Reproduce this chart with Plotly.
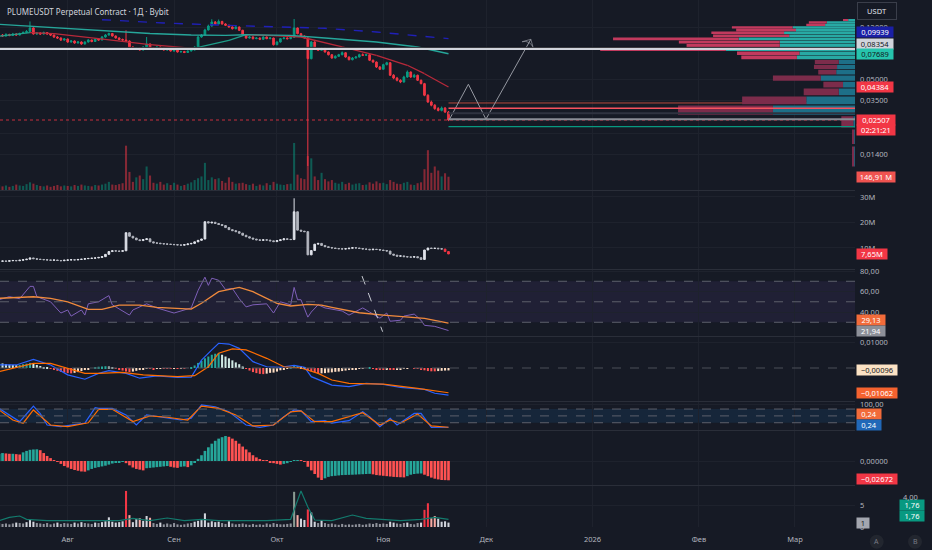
import math
import pandas as pd
import plotly.graph_objects as go

TITLE = "PLUMEUSDT Perpetual Contract · 1Д · Bybit"
START = "2025-07-12"

# ---------------- daily candles ----------------
first_open = 0.1050
closes = [
    0.1057, 0.1039, 0.1066, 0.1048, 0.1075, 0.1057, 0.1084, 0.1103, 0.1122, 0.1191,
    0.1075, 0.1094, 0.1075, 0.1103, 0.1075, 0.1057, 0.1022, 0.1005, 0.0971, 0.0988,
    0.0939, 0.0955, 0.0923, 0.0939, 0.0908, 0.0939, 0.0971, 0.0947, 0.0988, 0.0971,
    0.1022, 0.1057, 0.1084, 0.1039, 0.1005, 0.0979, 0.0971, 0.0955, 0.0863, 0.0834,
    0.0848, 0.0820, 0.0863, 0.0908, 0.0848, 0.0834, 0.0863, 0.0848, 0.0820, 0.0834,
    0.0806, 0.0820, 0.0793, 0.0799, 0.0786, 0.0806, 0.0820, 0.0863, 0.1022, 0.1057,
    0.1151, 0.1231, 0.1317, 0.1274, 0.1329, 0.1274, 0.1246, 0.1211, 0.1176, 0.1211,
    0.1145, 0.1062, 0.1005, 0.1022, 0.0993, 0.1005, 0.0983, 0.1022, 0.0993, 0.1005,
    0.0897, 0.0939, 0.0993, 0.1005, 0.0993, 0.1017, 0.1191, 0.1081, 0.1039, 0.1005,
    0.0708, 0.0939, 0.0838, 0.0816, 0.0848, 0.0793, 0.0757, 0.0716, 0.0737, 0.0757,
    0.0783, 0.0728, 0.0696, 0.0716, 0.0728, 0.0757, 0.0750, 0.0757, 0.0689, 0.0669,
    0.0615, 0.0592, 0.0640, 0.0661, 0.0535, 0.0510, 0.0491, 0.0477, 0.0519, 0.0565,
    0.0519, 0.0535, 0.0491, 0.0464, 0.0381, 0.0340, 0.0322, 0.0304, 0.0295, 0.0307,
    0.0287, 0.02507,
]
highs = [
    0.1085, 0.1075, 0.1090, 0.1080, 0.1095, 0.1090, 0.1100, 0.1125, 0.1150, 0.1330,
    0.1205, 0.1110, 0.1105, 0.1120, 0.1110, 0.1090, 0.1065, 0.1040, 0.1015, 0.1005,
    0.0995, 0.0970, 0.0965, 0.0955, 0.0950, 0.0950, 0.0985, 0.0980, 0.1000, 0.1000,
    0.1040, 0.1075, 0.1100, 0.1095, 0.1050, 0.1015, 0.0995, 0.1145, 0.0965, 0.0875,
    0.0860, 0.0855, 0.0875, 0.1022, 0.0915, 0.0860, 0.0875, 0.0870, 0.0855, 0.0845,
    0.0840, 0.0830, 0.0828, 0.0810, 0.0808, 0.0815, 0.0830, 0.0875, 0.1040, 0.1075,
    0.1175, 0.1260, 0.1380, 0.1340, 0.1375, 0.1345, 0.1290, 0.1260, 0.1225, 0.1230,
    0.1220, 0.1155, 0.1075, 0.1040, 0.1035, 0.1020, 0.1015, 0.1035, 0.1030, 0.1020,
    0.1010, 0.0950, 0.1005, 0.1020, 0.1015, 0.1030, 0.1386, 0.1200, 0.1095, 0.1050,
    0.1015, 0.0955, 0.0950, 0.0850, 0.0860, 0.0855, 0.0800, 0.0765, 0.0750, 0.0768,
    0.0800, 0.0790, 0.0735, 0.0728, 0.0740, 0.0770, 0.0775, 0.0770, 0.0762, 0.0698,
    0.0675, 0.0625, 0.0650, 0.0672, 0.0668, 0.0545, 0.0520, 0.0500, 0.0530, 0.0580,
    0.0570, 0.0548, 0.0540, 0.0498, 0.0470, 0.0388, 0.0348, 0.0328, 0.0312, 0.0315,
    0.0312, 0.0292,
]
lows = [
    0.1030, 0.1025, 0.1030, 0.1035, 0.1040, 0.1045, 0.1050, 0.1075, 0.1090, 0.1110,
    0.1065, 0.1060, 0.1060, 0.1065, 0.1060, 0.1040, 0.1005, 0.0990, 0.0955, 0.0960,
    0.0925, 0.0930, 0.0910, 0.0915, 0.0895, 0.0900, 0.0930, 0.0935, 0.0940, 0.0960,
    0.0965, 0.1010, 0.1045, 0.1030, 0.0995, 0.0970, 0.0955, 0.0945, 0.0850, 0.0820,
    0.0825, 0.0810, 0.0815, 0.0855, 0.0840, 0.0825, 0.0828, 0.0838, 0.0812, 0.0812,
    0.0798, 0.0798, 0.0785, 0.0785, 0.0778, 0.0780, 0.0800, 0.0815, 0.0858, 0.1010,
    0.1050, 0.1140, 0.1220, 0.1255, 0.1265, 0.1260, 0.1230, 0.1195, 0.1160, 0.1165,
    0.1130, 0.1050, 0.0990, 0.0995, 0.0980, 0.0985, 0.0970, 0.0975, 0.0985, 0.0985,
    0.0885, 0.0890, 0.0930, 0.0985, 0.0980, 0.0985, 0.1010, 0.1070, 0.1025, 0.0995,
    0.0115, 0.0700, 0.0825, 0.0805, 0.0810, 0.0785, 0.0748, 0.0708, 0.0710, 0.0728,
    0.0750, 0.0720, 0.0688, 0.0688, 0.0710, 0.0722, 0.0740, 0.0742, 0.0680, 0.0660,
    0.0605, 0.0585, 0.0588, 0.0632, 0.0528, 0.0500, 0.0482, 0.0468, 0.0472, 0.0512,
    0.0510, 0.0512, 0.0485, 0.0458, 0.0375, 0.0335, 0.0316, 0.0298, 0.0290, 0.0290,
    0.0282, 0.0246,
]
volume_m = [
    55, 40, 50, 35, 45, 60, 50, 45, 65, 85,
    70, 55, 45, 40, 50, 35, 45, 55, 40, 50,
    45, 40, 55, 45, 60, 50, 45, 40, 55, 50,
    60, 70, 90, 60, 55, 65, 75, 490, 200, 90,
    140, 160, 120, 260, 160, 80, 70, 90, 60, 75,
    55, 80, 60, 45, 55, 70, 85, 110, 130, 150,
    300, 110, 140, 120, 130, 100, 80, 140, 90, 70,
    75, 80, 65, 55, 70, 45, 60, 50, 75, 55,
    90, 70, 60, 55, 65, 70, 520, 170, 130, 120,
    375, 350, 150, 110, 190, 120, 95, 110, 80, 70,
    90, 65, 80, 60, 70, 75, 55, 60, 85, 70,
    95, 75, 80, 65, 110, 90, 70, 65, 80, 90,
    60, 55, 75, 85, 230, 440, 190, 260, 215, 150,
    185, 146.91,
]

# moving averages (day index, value)
ma_fast_days = [0, 9, 16, 29, 44, 55, 57, 67, 72, 80, 88, 100, 110, 119, 124, 131]
ma_fast = [0.1034, 0.1099, 0.1081, 0.0993, 0.0897, 0.0848, 0.0846, 0.0966, 0.1062,
           0.1045, 0.1022, 0.0863, 0.0750, 0.0633, 0.0549, 0.04384]
ma_slow_days = [0, 10, 29, 44, 56, 66, 72, 85, 95, 110, 122, 131]
ma_slow = [0.1267, 0.1225, 0.1145, 0.1084, 0.1057, 0.1050, 0.1062, 0.1050, 0.1005,
           0.0939, 0.0863, 0.07689]
ma_long_days = [30, 48, 66, 95, 110, 131]
ma_long = [0.1370, 0.1295, 0.1246, 0.1184, 0.1112, 0.09939]

# visible range volume profile
profile_prices = [0.1363, 0.1310, 0.1256, 0.1203, 0.1150, 0.1097, 0.1043, 0.0990,
                  0.0937, 0.0883, 0.0830, 0.0777, 0.0723, 0.0670, 0.0617, 0.0564,
                  0.0510, 0.0457, 0.0404, 0.0350, 0.0297, 0.0244, 0.0190, 0.0137]
profile_up = [0.8, 3.3, 3.5, 7.3, 6.9, 8.3, 7.7, 13.6, 8.8, 8.8, 15.1, 6.5, 6.8,
              1.9, 2.1, 2.2, 4.0, 1.4, 1.9, 5.7, 9.6, 0.2, 0.1, 0.1]
profile_down = [0.6, 2.1, 2.2, 7.1, 7.0, 8.5, 8.9, 14.7, 11.8, 10.9, 14.7, 7.3, 6.5,
                2.8, 2.7, 2.1, 5.6, 2.3, 4.1, 7.5, 11.1, 1.4, 0.25, 0.25]
value_area_low = 0.0700

# drawings
level_main = 0.08354
level_shadow = 0.0857
levels_right = [0.03344, 0.03057, 0.02808, 0.02537, 0.02238]
last_price = 0.02507
zigzag_dates = ["2025-11-20 07:00", "2025-11-25 19:00", "2025-11-30 22:00", "2025-12-14"]
zigzag_prices = [0.0254, 0.0459, 0.0254, 0.0983]

# open interest (M)
oi_m = [
    4.8, 4.9, 4.8, 5.0, 5.1, 5.0, 5.2, 5.4, 5.6, 6.1,
    5.8, 5.6, 5.5, 5.4, 5.3, 5.2, 5.3, 5.1, 5.0, 5.2,
    5.3, 5.4, 5.3, 5.5, 5.6, 5.8, 5.9, 6.0, 6.1, 6.3,
    6.6, 7.5, 8.6, 8.9, 8.8, 8.7, 8.9, 16.0, 14.6, 13.9,
    13.2, 12.9, 13.3, 13.6, 12.4, 12.0, 11.9, 11.7, 11.6, 11.5,
    11.4, 11.3, 11.2, 11.1, 11.3, 11.6, 11.8, 12.4, 13.0, 13.5,
    20.3, 19.8, 20.1, 19.6, 19.2, 18.8, 18.0, 17.2, 16.8, 16.4,
    15.8, 15.0, 14.4, 13.9, 13.5, 13.2, 13.0, 13.2, 13.1, 12.8,
    12.5, 12.9, 13.2, 13.6, 13.4, 13.3, 24.2, 17.0, 16.6, 16.4,
    7.3, 9.0, 11.5, 11.8, 11.0, 10.5, 10.2, 10.0, 9.8, 9.7,
    9.6, 9.7, 9.9, 10.1, 10.0, 9.8, 9.6, 9.5, 9.3, 9.5,
    9.4, 9.2, 9.0, 8.8, 7.6, 7.2, 6.8, 6.9, 6.6, 6.5,
    6.4, 6.6, 6.2, 5.5, 9.2, 10.0, 9.8, 9.9, 9.7, 9.6,
    8.6, 7.65,
]
oi_wick_high = {86: 29.5}

# RSI
rsi_days = [0, 3, 6, 9, 10, 11, 15, 18, 20, 21, 24, 25, 26, 29, 32, 33, 38, 39, 43, 46,
            51, 56, 58, 60, 61, 62, 64, 66, 68, 70, 72, 74, 78, 80, 82, 85, 86, 87, 88,
            90, 91, 93, 95, 100, 102, 106, 108, 111, 113, 114, 117, 118, 121, 123, 124,
            127, 131]
rsi_vals = [52, 55, 53, 65, 65, 55, 50, 39, 42, 36, 42, 37, 48, 50, 56, 47, 37, 42, 48, 44,
            39, 44, 61, 74, 66, 73, 71, 62, 63, 53, 45, 47, 48, 39, 50, 47, 64, 52, 52,
            35, 40, 47, 44, 41, 37, 44, 40, 34, 39, 31, 32, 36, 38, 32, 27,
            26, 21.94]
rsi_ma_days = [0, 10, 15, 20, 26, 30, 35, 41, 46, 56, 59, 64, 70, 74, 81, 85, 90, 94, 97,
               105, 112, 124, 131]
rsi_ma_vals = [53.4, 54.9, 53.4, 50, 42.6, 42.6, 46.8, 46.8, 44.6, 42.9, 48.5, 59.8, 64.1,
               59.8, 48.5, 45.9, 47.5, 46.8, 44.6, 39.3, 37, 33.9, 29.13]
rsi_trend_dates = ["2025-10-25 19:00", "2025-10-31 19:00"]
rsi_trend_vals = [75.1, 20.8]

# MACD
macd_days = [0, 5, 10, 15, 20, 25, 29, 32, 37, 41, 46, 52, 56, 59, 62, 64, 67, 70, 74, 78,
             82, 86, 89, 91, 97, 102, 107, 112, 117, 124, 127, 131]
macd_vals = [0.0012, 0.0012, 0.0034, 0.0012, -0.0027, -0.0044, -0.0021, -0.0010, -0.0021,
             -0.0040, -0.0031, -0.0037, -0.0036, 0.0031, 0.0071, 0.0097, 0.0094, 0.0077,
             0.0025, 0.0005, 0.0003, 0.0010, 0.0003, -0.0034, -0.0067, -0.0073, -0.0060,
             -0.0064, -0.0076, -0.0084, -0.0099, -0.01062]
signal_days = [0, 10, 15, 20, 25, 29, 36, 42, 52, 57, 61, 64, 68, 72, 78, 83, 88, 93, 97,
               102, 112, 122, 131]
signal_vals = [-0.0014, 0.0018, 0.0018, 0.0, -0.0021, -0.0021, -0.0017, -0.0027, -0.0034,
               -0.0030, 0.0005, 0.0058, 0.0075, 0.0071, 0.0038, 0.0005, 0.0, -0.0021,
               -0.0047, -0.0060, -0.0063, -0.0080, -0.0097]
macd_hist_e4 = [
    20, 18, 15, 13, 12, 11, 12, 15, 17, 20,
    17, 12, 8, 4, 1, -3, -7, -11, -15, -18,
    -20, -21, -19, -16, -12, -8, -4, 0, 3, 5,
    6, 7, 6, 3, -2, -6, -10, -14, -16, -14,
    -11, -8, -6, -3, -3, -4, -3, -2, -2, -3,
    -3, -2, -2, -1, -1, 0, 3, 10, 20, 28,
    38, 45, 52, 56, 58, 52, 45, 38, 30, 22,
    15, 6, -3, -10, -16, -20, -23, -24, -22, -19,
    -18, -14, -9, -5, -2, 2, 8, 8, 6, 2,
    -8, -13, -17, -22, -21, -20, -18, -17, -15, -14,
    -12, -10, -8, -6, -5, -3, -1, 0, 1, -2,
    -4, -5, -6, -4, -6, -7, -6, -5, -3, -1,
    0, -1, -3, -5, -9, -12, -13, -13, -12, -11,
    -10, -9.6,
]

# Stochastic RSI
stoch_k_days = [0, 3, 6, 10, 12, 14, 18, 25, 28, 29, 33, 37, 40, 43, 47, 53, 56, 59, 63,
                67, 72, 76, 80, 83, 86, 88, 91, 95, 97, 102, 106, 108, 111, 114, 116, 121,
                123, 126, 131]
stoch_k = [83, 54, 25, 93, 60, 10, 3, 18, 86, 83, 83, 54, 10, 54, 44, 32, 40, 98, 90,
           68, 10, 0, 10, 46, 76, 72, 25, 29, 18, 29, 68, 46, 3, 39, 10, 61,
           61, 0, 0.24]
stoch_d_days = [0, 4, 7, 10, 15, 20, 26, 29, 33, 39, 44, 49, 55, 59, 64, 69, 74, 80, 85,
                88, 92, 97, 106, 111, 114, 117, 122, 126, 131]
stoch_d = [76, 32, 18, 76, 10, 3, 20, 79, 79, 25, 50, 44, 32, 93, 83, 54, 6, 10, 68,
           72, 25, 25, 64, 10, 32, 18, 58, 6, 0.24]

# momentum histogram (x1e-3)
momentum_e3 = [
    10, 11, 10.5, 10, 10, 9.5, 9, 12, 14, 15.5,
    16, 16.2, 15, 11, 7, 4, 1, -1, -4, -7,
    -9, -11, -12.5, -13.5, -14.5, -14.8, -13, -11, -9.5, -8.5,
    -7.5, -6.5, -5, -3.5, -2.5, -2, -1, -3, -6, -9,
    -11, -12, -13, -10, -9.5, -9, -8.5, -8, -7.5, -7,
    -8, -9, -9.5, -8, -7.5, -8.5, -6, -2, 3, 8,
    14, 19, 24, 28, 31, 33, 34.6, 33.5, 31, 28,
    24, 20, 16, 12, 8, 5, 2, 0.5, 0.3, -1.5,
    -3, -4, -5, -4, -3, -1, 0.5, 1, 0.8, -0.5,
    -8, -13, -18, -23, -26.3, -24, -22, -21, -20.5, -20,
    -19.5, -19.3, -19.2, -19, -18.8, -18.5, -18.3, -18, -17.8, -18.5,
    -19.5, -20, -20.5, -21, -21.5, -22, -22.3, -22.5, -22.7, -21,
    -19, -18, -17.5, -17.3, -19, -21, -23, -24.5, -25.5, -26.3,
    -26.5, -26.72,
]

# relative volume
rel_vol = [
    0.9, 0.7, 0.8, 0.6, 0.8, 1.0, 0.9, 0.8, 1.1, 1.6,
    1.2, 0.9, 0.8, 0.7, 0.9, 0.6, 0.8, 1.0, 0.7, 0.9,
    0.8, 0.7, 1.0, 0.8, 1.1, 0.9, 0.8, 0.7, 1.0, 0.9,
    1.1, 1.3, 2.2, 1.2, 1.0, 1.1, 1.3, 8.2, 2.7, 1.1,
    1.8, 2.0, 1.4, 2.5, 2.1, 0.9, 0.7, 1.0, 0.6, 0.8,
    0.6, 0.9, 0.6, 0.5, 0.6, 0.8, 0.9, 1.2, 1.4, 1.6,
    3.1, 1.0, 1.3, 1.1, 1.2, 0.9, 0.7, 1.3, 0.8, 0.6,
    0.7, 0.8, 0.6, 0.5, 0.7, 0.5, 0.6, 0.5, 0.8, 0.6,
    0.9, 0.7, 0.6, 0.6, 0.7, 0.8, 8.0, 2.7, 1.9, 1.6,
    4.0, 3.3, 1.2, 0.9, 1.5, 0.9, 0.7, 0.8, 0.6, 0.5,
    0.7, 0.5, 0.6, 0.5, 0.6, 0.7, 0.5, 0.6, 0.8, 0.7,
    0.9, 0.7, 0.8, 0.7, 1.2, 1.0, 0.8, 0.7, 0.9, 1.0,
    0.7, 0.6, 0.9, 1.0, 3.9, 5.4, 2.0, 2.5, 1.9, 1.2,
    1.3, 1.0,
]
relvol_ma_days = [0, 3, 6, 8, 14, 20, 29, 35, 39, 44, 49, 54, 59, 64, 78, 85, 88, 90, 92,
                  97, 103, 107, 117, 123, 127, 131]
relvol_ma = [1.62, 1.96, 2.09, 1.76, 1.63, 1.62, 1.62, 1.63, 1.86, 1.63, 1.89, 1.62, 1.76,
             1.63, 1.62, 1.76, 4.6, 3.0, 1.69, 1.62, 2.19, 1.86, 1.62, 1.76, 1.96, 1.76]

month_ticks = ["2025-08-01", "2025-09-01", "2025-10-01", "2025-11-01",
               "2025-12-01", "2026-01-01", "2026-02-01", "2026-03-01"]
month_labels = ["Авг", "Сен", "Окт", "Ноя", "Дек", "2026", "Фев", "Мар"]

# ---------------- styling ----------------
BG = "#161a25"
GRID = "#1e222d"
SEP = "#2a2e39"
TXT = "#b2b5be"
UP = "#089981"
DOWN = "#f23645"
FONT = "Noto Sans"
DAY_MS = 86400000

W, H = 932, 550
MR, MB = 77, 23
PH = H - MB
PW = W - MR
X0, X1 = "2025-07-12 06:17", "2026-03-18 12:00"
panes = [(0, 190), (191, 269), (270, 336), (337, 401), (402, 430), (431, 485), (486, 527)]


def dom(i):
    top, bot = panes[i]
    return [1 - bot / PH, 1 - top / PH]


def py(px):
    return 1 - px / PH


dates = pd.date_range(START, periods=len(closes), freq="D")
opens = [first_open] + closes[:-1]
rising = [c >= o for o, c in zip(opens, closes)]


def at(days):
    return [dates[i] for i in days]


fig = go.Figure()

# volume under candles (base subplot of price pane)
fig.add_trace(go.Bar(
    x=dates, y=volume_m, width=0.6 * DAY_MS, marker_line_width=0,
    marker_color=["rgba(8,153,129,0.5)" if r else "rgba(242,54,69,0.5)" for r in rising],
    xaxis="x", yaxis="y"))

# price candles
fig.add_trace(go.Candlestick(
    x=dates, open=opens, high=highs, low=lows, close=closes, xaxis="x", yaxis="y2",
    increasing=dict(line=dict(color=UP, width=1), fillcolor=UP),
    decreasing=dict(line=dict(color=DOWN, width=1), fillcolor=DOWN),
    whiskerwidth=0))

# current price dotted line and lower level under profile
fig.add_trace(go.Scatter(x=[X0, X1], y=[last_price, last_price], mode="lines",
                         line=dict(color="rgba(242,54,69,0.8)", width=1, dash="dot"),
                         xaxis="x", yaxis="y2"))
fig.add_trace(go.Scatter(x=[dates[-1], X1], y=[levels_right[0]] * 2, mode="lines",
                         line=dict(color="#b8483c", width=1), xaxis="x", yaxis="y2"))

# moving averages
fx = at(ma_fast_days)
for want_up, col in [(True, "#1f9e89"), (False, "#b8293a")]:
    xs, ys = [], []
    for i in range(len(ma_fast) - 1):
        if (ma_fast[i + 1] >= ma_fast[i]) == want_up:
            xs += [fx[i], fx[i + 1], None]
            ys += [ma_fast[i], ma_fast[i + 1], None]
    fig.add_trace(go.Scatter(x=xs, y=ys, mode="lines", line=dict(color=col, width=1.3),
                             xaxis="x", yaxis="y2"))
fig.add_trace(go.Scatter(x=at(ma_slow_days), y=ma_slow, mode="lines",
                         line=dict(color="#26a69a", width=1.4), xaxis="x", yaxis="y2"))
fig.add_trace(go.Scatter(x=at(ma_long_days), y=ma_long, mode="lines",
                         line=dict(color="#2020b8", width=1.4, dash="dash"), xaxis="x", yaxis="y2"))

# zigzag drawing with arrow head
fig.add_trace(go.Scatter(
    x=zigzag_dates, y=zigzag_prices, mode="lines+markers",
    line=dict(color="#9598a1", width=1),
    marker=dict(symbol=["circle", "circle", "circle", "arrow-wide-open"], size=[0, 0, 0, 9],
                angleref="previous", color="#9598a1", line=dict(color="#9598a1", width=1)),
    xaxis="x", yaxis="y2"))

# volume profile (right side)
HALF = 0.0023


def profile_poly(rows, left, right):
    xs, ys = [], []
    for i in rows:
        c = profile_prices[i]
        a, b = left[i], right[i]
        xs += [a, b, b, a, a, None]
        ys += [c - HALF, c - HALF, c + HALF, c + HALF, c - HALF, None]
    return xs, ys


zeros = [0] * len(profile_prices)
totals = [u + d for u, d in zip(profile_up, profile_down)]
va_rows = [i for i, p in enumerate(profile_prices) if p >= value_area_low]
out_rows = [i for i, p in enumerate(profile_prices) if p < value_area_low]
for rows, up_col, dn_col in [(va_rows, "#28a9a4", "#c23a5e"), (out_rows, "#1d6f88", "#7c2c4b")]:
    for left, right, col in [(zeros, profile_up, up_col), (profile_up, totals, dn_col)]:
        xs, ys = profile_poly(rows, left, right)
        fig.add_trace(go.Scatter(x=xs, y=ys, mode="lines", fill="toself", fillcolor=col,
                                 line=dict(width=0), xaxis="x2", yaxis="y2"))

# horizontal drawings above the profile
fig.add_trace(go.Scatter(x=[X0, X1], y=[level_shadow] * 2, mode="lines",
                         line=dict(color="#05060a", width=1), xaxis="x3", yaxis="y2"))
fig.add_trace(go.Scatter(x=[X0, X1], y=[level_main] * 2, mode="lines",
                         line=dict(color="#d1d4dc", width=2.2), xaxis="x3", yaxis="y2"))
for lv, col, wd in zip(levels_right[1:], ["#f7525f", "#2f3340", "#8a8d96", "#089981"],
                       [1.6, 2, 2, 1.2]):
    fig.add_trace(go.Scatter(x=[dates[-1], X1], y=[lv, lv], mode="lines",
                             line=dict(color=col, width=wd), xaxis="x3", yaxis="y2"))

# open interest candles
oi_open = [oi_m[0]] + oi_m[:-1]
oi_high = [oi_wick_high.get(i, max(o, c)) for i, (o, c) in enumerate(zip(oi_open, oi_m))]
oi_low = [min(o, c) for o, c in zip(oi_open, oi_m)]
split = len(oi_m) - 2
for sl, inc, dec in [(slice(0, split), "#e0e3eb", "#b2b5be"), (slice(split, None), DOWN, DOWN)]:
    fig.add_trace(go.Candlestick(
        x=dates[sl], open=oi_open[sl], high=oi_high[sl], low=oi_low[sl], close=oi_m[sl],
        xaxis="x", yaxis="y3", whiskerwidth=0,
        increasing=dict(line=dict(color=inc, width=1), fillcolor=inc),
        decreasing=dict(line=dict(color=dec, width=1), fillcolor=dec)))

# RSI
fig.add_trace(go.Scatter(x=at(rsi_days), y=rsi_vals, mode="lines",
                         line=dict(color="#7e5fb8", width=1), xaxis="x", yaxis="y4"))
fig.add_trace(go.Scatter(x=at(rsi_ma_days), y=rsi_ma_vals, mode="lines",
                         line=dict(color="#f08a3c", width=1.3), xaxis="x", yaxis="y4"))
fig.add_trace(go.Scatter(x=rsi_trend_dates, y=rsi_trend_vals, mode="lines",
                         line=dict(color="#c8cbd3", width=1, dash="dash"), xaxis="x", yaxis="y4"))

# MACD
hist = [v * 1e-4 for v in macd_hist_e4]
hcol = []
for i, v in enumerate(hist):
    prev = hist[i - 1] if i else v
    if v >= 0:
        hcol.append("#26a69a" if v >= prev else "#cfe9e4")
    else:
        hcol.append("#fddcc2" if v > prev else "#ff5252")
fig.add_trace(go.Bar(x=dates, y=hist, width=0.6 * DAY_MS, marker_color=hcol,
                     marker_line_width=0, xaxis="x", yaxis="y5"))
fig.add_trace(go.Scatter(x=at(macd_days), y=macd_vals, mode="lines",
                         line=dict(color="#2962ff", width=1.2), xaxis="x", yaxis="y5"))
fig.add_trace(go.Scatter(x=at(signal_days), y=signal_vals, mode="lines",
                         line=dict(color="#ff6d00", width=1.2), xaxis="x", yaxis="y5"))

# Stoch RSI
fig.add_trace(go.Scatter(x=at(stoch_k_days), y=stoch_k, mode="lines",
                         line=dict(color="#2962ff", width=1.2), xaxis="x", yaxis="y6"))
fig.add_trace(go.Scatter(x=at(stoch_d_days), y=stoch_d, mode="lines",
                         line=dict(color="#ff6d00", width=1.2), xaxis="x", yaxis="y6"))

# momentum histogram
mom = [v * 1e-3 for v in momentum_e3]
mcol = ["#26a69a" if (i == 0 or v >= mom[i - 1]) else "#ff5252" for i, v in enumerate(mom)]
fig.add_trace(go.Bar(x=dates, y=mom, width=0.78 * DAY_MS, marker_color=mcol,
                     marker_line_width=0, xaxis="x", yaxis="y7"))

# relative volume
rcol = []
for r, up in zip(rel_vol, rising):
    if not up and r >= 3.5:
        rcol.append("#f23645")
    elif not up and r >= 2:
        rcol.append("#f7a9a2")
    elif up and r >= 6:
        rcol.append("#8a9a92")
    elif r >= 1:
        rcol.append("#d1d4dc")
    else:
        rcol.append("#8f929b")
fig.add_trace(go.Bar(x=dates, y=rel_vol, width=0.6 * DAY_MS, marker_color=rcol,
                     marker_line_width=0, xaxis="x", yaxis="y8"))
fig.add_trace(go.Scatter(x=at(relvol_ma_days), y=relvol_ma, mode="lines",
                         line=dict(color="#137a6d", width=1.2), xaxis="x", yaxis="y9"))

# ---------------- axes ----------------
tick_font = dict(size=7.5, color=TXT, family=FONT)


def yax(rng, vals=None, text=None, **kw):
    d = dict(range=rng, side="right", showgrid=True, gridcolor=GRID, gridwidth=1,
             zeroline=False, showline=False, ticks="", tickfont=tick_font,
             ticklabelstandoff=4, fixedrange=True)
    if vals is not None:
        d.update(tickmode="array", tickvals=vals, ticktext=text)
    d.update(kw)
    return d


layout_axes = dict(
    xaxis=dict(type="date", range=[X0, X1], anchor="y8", domain=[0, 1],
               tickmode="array", tickvals=month_ticks, ticktext=month_labels,
               showgrid=True, gridcolor=GRID, zeroline=False, showline=False, ticks="",
               tickfont=tick_font, ticklabelstandoff=6, rangeslider=dict(visible=False)),
    xaxis2=dict(overlaying="x", range=[100, 0], visible=False, anchor="y"),
    xaxis3=dict(overlaying="x", type="date", range=[X0, X1], visible=False, anchor="y"),
    yaxis=dict(domain=dom(0), range=[0, 2100], visible=False, fixedrange=True),
    yaxis2=yax([-2.1156, -0.7185], [0.12, 0.05, 0.035, 0.02, 0.014],
               ["0,12000", "0,05000", "0,03500", "", "0,01400"],
               type="log", overlaying="y"),
    yaxis3=yax([1.76, 32.35], [10, 20, 30], ["10M", "20M", "30M"], domain=dom(1)),
    yaxis4=yax([16.6, 81.0], [40, 60, 80], ["40,00", "60,00", "80,00"], domain=dom(2)),
    yaxis5=yax([-0.01294, 0.01216], [0.01], ["0,01000"], domain=dom(3)),
    yaxis6=yax([-11.84, 110.96], [100], ["100,00"], domain=dom(4)),
    yaxis7=yax([-0.03324, 0.04155], [0], ["0,00000"], domain=dom(5)),
    yaxis8=yax([0, 9.32], [0, 5], ["0", "5"], domain=dom(6)),
    yaxis9=dict(overlaying="y8", range=[0.987, 5.103], visible=False),
)

# ---------------- shapes ----------------
shapes = []
for top, _ in panes[1:]:
    shapes.append(dict(type="line", xref="paper", yref="paper", x0=0, x1=1,
                       y0=py(top - 0.5), y1=py(top - 0.5), line=dict(color=SEP, width=1)))
# indicator bands
shapes.append(dict(type="rect", xref="paper", yref="y4", x0=0, x1=1, y0=30, y1=70,
                   fillcolor="rgba(126,87,194,0.10)", line=dict(width=0), layer="below"))
for lv in (70, 50, 30):
    shapes.append(dict(type="line", xref="paper", yref="y4", x0=0, x1=1, y0=lv, y1=lv,
                       line=dict(color="#5d606b", width=1, dash="dash")))
shapes.append(dict(type="rect", xref="paper", yref="y6", x0=0, x1=1, y0=20, y1=80,
                   fillcolor="rgba(33,150,243,0.10)", line=dict(width=0), layer="below"))
for lv in (80, 50, 20):
    shapes.append(dict(type="line", xref="paper", yref="y6", x0=0, x1=1, y0=lv, y1=lv,
                       line=dict(color="#5d606b", width=1, dash="dash")))
shapes.append(dict(type="line", xref="paper", yref="y5", x0=0, x1=1, y0=0, y1=0,
                   line=dict(color="#4a4e59", width=1, dash="dash")))
# scale buttons
for cx in (876.7, 915.0):
    shapes.append(dict(type="circle", xref="paper", yref="paper",
                       x0=(cx - 7) / PW, x1=(cx + 7) / PW, y0=py(548.7), y1=py(534.7),
                       fillcolor="#22262f", line=dict(width=0)))

# ---------------- annotations ----------------
ann = []


def tag(text, y, yref, bg, fg="#ffffff", shift=0, xpx=856, width=36):
    ann.append(dict(text=text, xref="paper", x=xpx / PW, xanchor="left", yref=yref, y=y,
                    yanchor="middle", yshift=shift, showarrow=False, bgcolor=bg,
                    font=dict(color=fg, size=7.5, family=FONT), borderpad=0,
                    width=width, height=10, align="center"))


lg = math.log10
tag("0,09939", lg(ma_long[-1]), "y2", "#1a1fa6", shift=6.6)
tag("0,08354", lg(level_main), "y2", "#d1d4dc", fg="#131722", shift=5.4)
tag("0,07689", lg(ma_slow[-1]), "y2", "#26c4ad", fg="#131722")
tag("0,04384", lg(ma_fast[-1]), "y2", DOWN)
tag("0,02507", lg(last_price), "y2", DOWN, width=38)
tag("02:21:21", lg(last_price), "y2", DOWN, shift=-10, width=38)
tag("146,91 M", volume_m[-1], "y", "#f05350", width=38)
tag("7,65M", oi_m[-1], "y3", DOWN, width=30)
tag("29,13", rsi_ma_vals[-1], "y4", "#f26b3a", shift=3, width=28)
tag("21,94", rsi_vals[-1], "y4", "#8d9099", width=28)
tag("−0,00096", hist[-1], "y5", "#fbe2c4", fg="#131722", width=40)
tag("−0,01062", macd_vals[-1], "y5", "#f4622f", shift=2, width=40)
tag("0,24", stoch_d[-1], "y6", "#f26b3a", shift=13, width=24)
tag("0,24", stoch_k[-1], "y6", "#2168b8", shift=2.5, width=24)
tag("−0,02672", mom[-1], "y7", DOWN, shift=1, width=40)
tag("1", rel_vol[-1], "y8", "#a3a6af", fg="#131722", width=12)
tag("1,76", relvol_ma[-1], "y9", UP, shift=14, xpx=899, width=24)
tag("1,76", relvol_ma[-1], "y9", UP, shift=3, xpx=899, width=24)
ann.append(dict(text="4,00", xref="paper", x=901 / PW, xanchor="left", yref="y9", y=4.0,
                yanchor="middle", showarrow=False, font=dict(color=TXT, size=7.5, family=FONT)))
ann.append(dict(text=TITLE, xref="paper", x=5 / PW, xanchor="left", yref="paper", y=py(11),
                yanchor="middle", showarrow=False, font=dict(color="#d1d4dc", size=8, family=FONT)))
ann.append(dict(text="USDT", xref="paper", x=857 / PW, xanchor="left", yref="paper", y=py(11),
                yanchor="middle", showarrow=False, bgcolor=BG, bordercolor="#3a3e4a",
                borderwidth=1, width=36, height=14,
                font=dict(color="#e0e3eb", size=7.5, family=FONT)))
for cx, letter in [(876.7, "A"), (915.0, "B")]:
    ann.append(dict(text=letter, xref="paper", x=cx / PW, xanchor="center", yref="paper",
                    y=py(541.7), yanchor="middle", showarrow=False,
                    font=dict(color="#787b86", size=7, family=FONT)))

fig.update_layout(
    width=W, height=H, margin=dict(l=0, r=MR, t=0, b=MB, pad=0),
    paper_bgcolor=BG, plot_bgcolor=BG, template="none", showlegend=False,
    hovermode=False, separators=", ", font=dict(family=FONT, color=TXT, size=7.5),
    shapes=shapes, annotations=ann, **layout_axes)

# the page's default body margin would shift the chart by 8 px
fig.write_html("out.html", config={"displayModeBar": False},
               post_script="document.body.style.margin='0';"
                           "document.body.style.background='#161a25';")
